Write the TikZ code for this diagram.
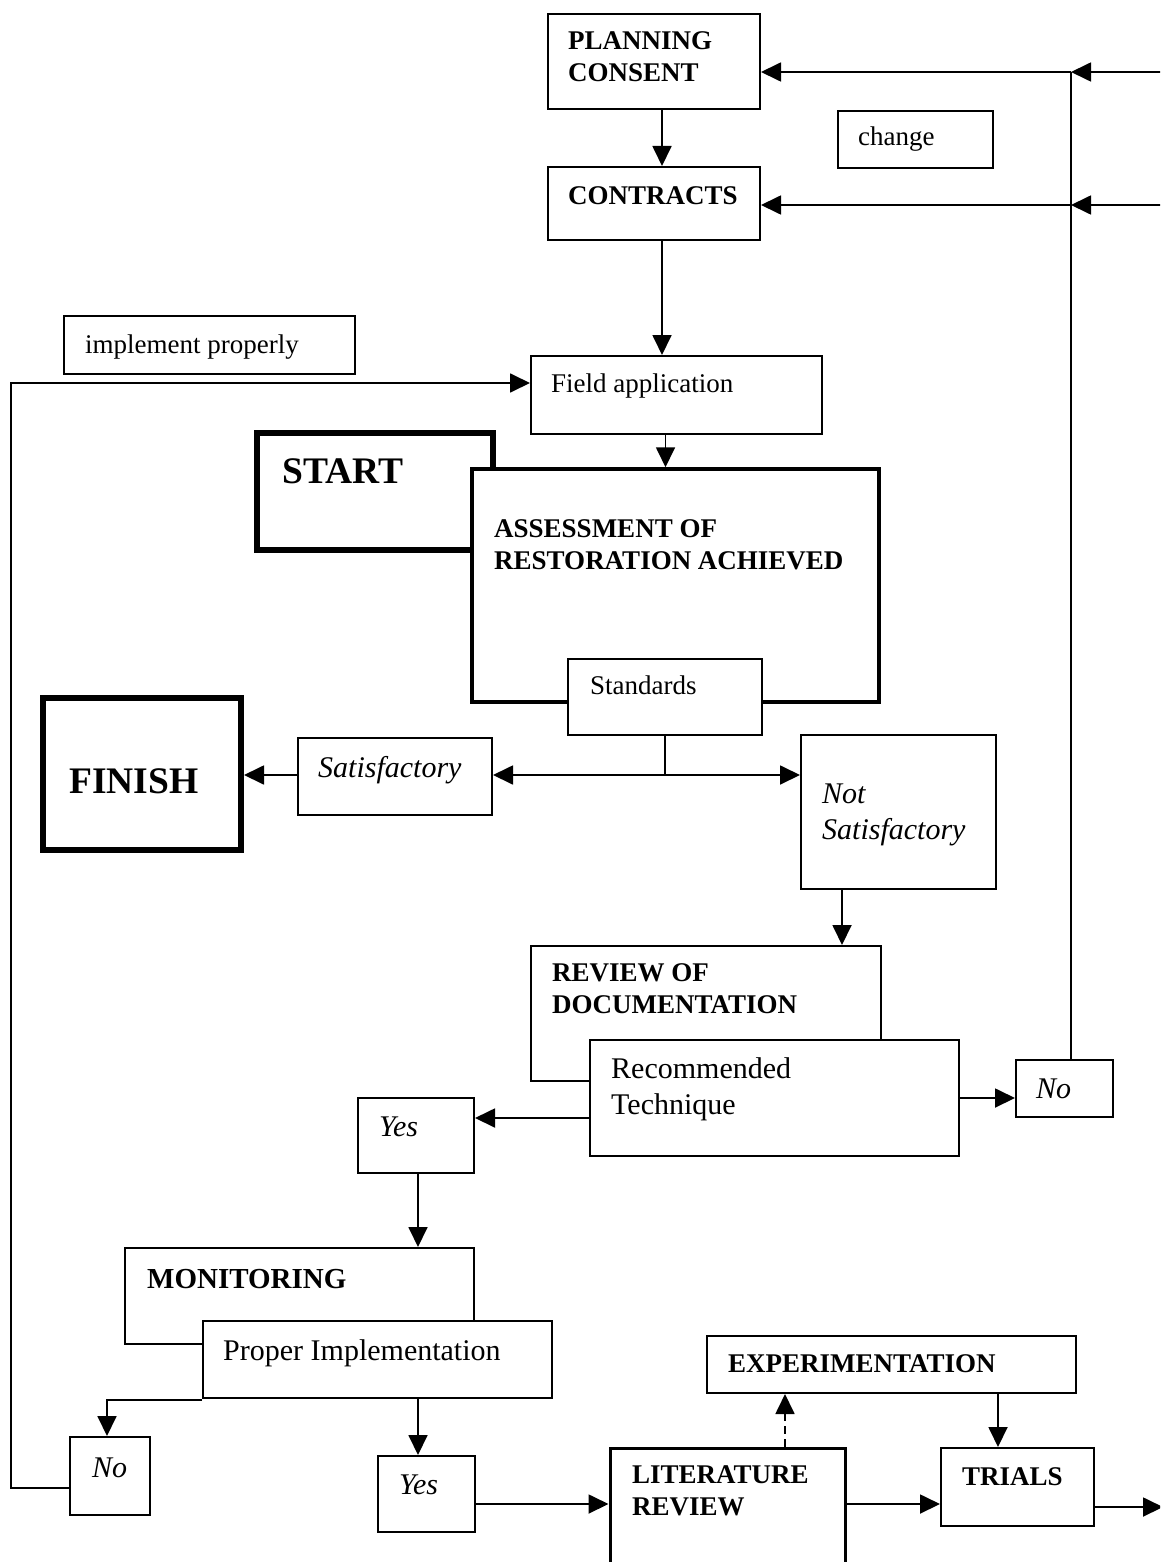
\documentclass[tikz,border=0pt]{standalone}
\usepackage{fontspec}
\setmainfont{Liberation Serif}
\usetikzlibrary{arrows.meta}
\begin{document}
\begin{tikzpicture}[x=1pt,y=-1pt,
  box/.style={draw, line width=2pt, fill=white, inner sep=0pt, rectangle},
  thickbox/.style={box, line width=6pt},
  midbox/.style={box, line width=3.5pt},
  txt/.style={anchor=base west, inner sep=0pt, font=\fontsize{27}{32}\selectfont},
  ltxt/.style={txt, font=\fontsize{30}{34}\selectfont},
  btxt/.style={txt, font=\fontsize{27}{32}\selectfont\bfseries},
  itxt/.style={txt, font=\fontsize{30}{34}\selectfont\itshape},
  bigtxt/.style={txt, font=\fontsize{37.5}{40}\selectfont\bfseries},
  arr/.style={line width=1.8pt, -{Triangle[length=20pt,width=19pt]}},
  conn/.style={line width=1.8pt}
]
\useasboundingbox (0,0) rectangle (1160,1562);
\clip (0,0) rectangle (1160,1562);

% boxes
\node[box, minimum width=212, minimum height=95] (pc) at (654,61.5) {};
\node[box, minimum width=155, minimum height=57] (chg) at (915.5,139.5) {};
\node[box, minimum width=212, minimum height=73] (ct) at (654,203.5) {};
\node[box, minimum width=291, minimum height=58] (imp) at (209.5,345) {};
\node[box, minimum width=291, minimum height=78] (fa) at (676.5,395) {};
\node[thickbox, minimum width=236, minimum height=117] (stt) at (375,491.5) {};
\node[midbox, minimum width=407, minimum height=233] (as) at (675.5,585.5) {};
\node[box, minimum width=194, minimum height=76] (st) at (665,697) {};
\node[thickbox, minimum width=198, minimum height=152] (fin) at (142,774) {};
\node[box, minimum width=194, minimum height=77] (sat) at (395,776.5) {};
\node[box, minimum width=195, minimum height=154] (ns) at (898.5,812) {};
\node[box, minimum width=350, minimum height=135] (rev) at (706,1013.5) {};
\node[box, minimum width=369, minimum height=116] (rt) at (774.5,1098) {};
\node[box, minimum width=97, minimum height=57] (noR) at (1064.5,1088.5) {};
\node[box, minimum width=116, minimum height=75] (yesA) at (416,1135.5) {};
\node[box, minimum width=349, minimum height=96] (mon) at (299.5,1296) {};
\node[box, minimum width=349, minimum height=77] (pi) at (377.5,1359.5) {};
\node[box, minimum width=80, minimum height=78] (noL) at (110,1476) {};
\node[box, minimum width=97, minimum height=76] (yesB) at (426.5,1494) {};
\node[midbox, line width=3pt, minimum width=235, minimum height=152] (lit) at (727.5,1524) {};
\node[box, minimum width=369, minimum height=57] (exp) at (891.5,1364.5) {};
\node[box, minimum width=153, minimum height=78] (tr) at (1017.5,1487) {};

% texts
\node[btxt] (t-pc1) at (568,50) {PLANNING};
\node[btxt] (t-pc2) at (568,82) {CONSENT};
\node[txt] (t-chg) at (858,146) {change};
\node[btxt] (t-ct) at (568,205) {CONTRACTS};
\node[txt] (t-imp) at (85,353) {implement properly};
\node[txt] (t-fa) at (551,392) {Field application};
\node[bigtxt] (t-stt) at (282,483) {START};
\node[btxt] (t-as1) at (494,537) {ASSESSMENT OF};
\node[btxt] (t-as2) at (494,569) {RESTORATION ACHIEVED};
\node[txt] (t-st) at (590,694) {Standards};
\node[bigtxt] (t-fin) at (69,793) {FINISH};
\node[itxt] (t-sat) at (318,777) {Satisfactory};
\node[itxt] (t-ns1) at (822,803) {Not};
\node[itxt] (t-ns2) at (822,839) {Satisfactory};
\node[btxt] (t-rev1) at (552,981) {REVIEW OF};
\node[btxt] (t-rev2) at (552,1013) {DOCUMENTATION};
\node[ltxt] (t-rt1) at (611,1078) {Recommended};
\node[ltxt] (t-rt2) at (611,1114) {Technique};
\node[itxt] (t-noR) at (1036,1098) {No};
\node[itxt] (t-yesA) at (379,1136) {Yes};
\node[btxt, font=\fontsize{29}{32}\selectfont\bfseries] (t-mon) at (147,1288) {MONITORING};
\node[ltxt] (t-pi) at (223,1360) {Proper Implementation};
\node[itxt] (t-noL) at (92,1477) {No};
\node[itxt] (t-yesB) at (399,1494) {Yes};
\node[btxt] (t-exp) at (728,1372) {EXPERIMENTATION};
\node[btxt] (t-lit1) at (632,1483) {LITERATURE};
\node[btxt] (t-lit2) at (632,1515) {REVIEW};
\node[btxt] (t-tr) at (962,1485) {TRIALS};

% helper coordinates
\coordinate (j1) at (1071,72);
\coordinate (j2) at (1071,205);
\coordinate (e1) at (1175,72);
\coordinate (e2) at (1175,205);
\coordinate (sp) at (665,775);
\coordinate (ly) at (0,1504);
\coordinate (ly2) at (0,1507);
\coordinate (e3) at (1163,1507);

% connectors
\draw[arr] ([xshift=8]pc.south) -- ([xshift=8]ct.north);
\draw[arr] ([xshift=8]ct.south) -- ([xshift=8]ct.south |- fa.north);
\draw[arr] ([xshift=-11]fa.south) -- ([xshift=-11]fa.south |- as.north);
\draw[conn] (st.south) -- (sp);
\draw[arr] (sp) -- (sp -| sat.east);
\draw[arr] (sp) -- (sp -| ns.west);
\draw[arr] (sat.west |- sp) -- (fin.east |- sp);
\draw[arr] ([xshift=-56.5]ns.south) -- ([xshift=-56.5]ns.south |- rev.north);
\draw[arr] (rt.east) -- (rt.east -| noR.west);
\draw[conn] ([xshift=6.5]noR.north) -- (j1);
\draw[arr] (j1) -- (j1 -| pc.east);
\draw[arr] (j2) -- (j2 -| ct.east);
\draw[arr] (e1) -- (j1);
\draw[arr] (e2) -- (j2);
\draw[arr] ([yshift=-20]rt.west) -- ([yshift=-20]rt.west -| yesA.east);
\draw[arr] ([xshift=2]yesA.south) -- ([xshift=2]yesA.south |- mon.north);
\draw[arr] ([yshift=-1]pi.south west) -| ([xshift=-3]noL.north);
\draw[arr] ([yshift=-12]noL.west) -- ++(-58,0) |- ([yshift=12]fa.west);
\draw[arr] ([xshift=40.5]pi.south) -- ([xshift=40.5]pi.south |- yesB.north);
\draw[arr] (yesB.east |- ly) -- (lit.west |- ly);
\draw[arr, dash pattern=on 8pt off 5pt] ([xshift=57.5]lit.north) -- ([xshift=57.5]lit.north |- exp.south);
\draw[arr] ([xshift=106.5]exp.south) -- ([xshift=106.5]exp.south |- tr.north);
\draw[arr] (lit.east |- ly) -- (tr.west |- ly);
\draw[arr] (tr.east |- ly2) -- (e3);
\end{tikzpicture}
\end{document}
